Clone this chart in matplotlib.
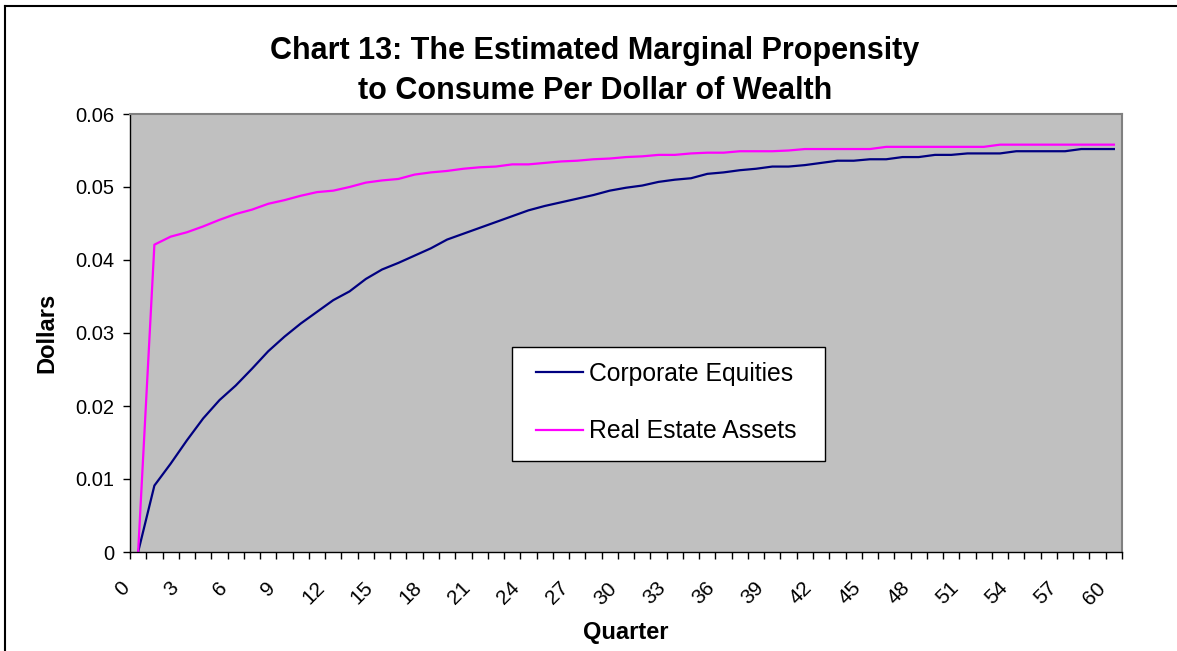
import matplotlib
matplotlib.use("Agg")
import matplotlib.pyplot as plt
import matplotlib.transforms as mtransforms
from matplotlib.lines import Line2D
from matplotlib.patches import Rectangle

plt.rcParams['font.family'] = ['Liberation Sans', 'DejaVu Sans']

quarters = list(range(61))
corporate_equities = [
    0.0, 0.0091, 0.0121, 0.0153, 0.0183, 0.0208, 0.0228, 0.0251, 0.0275, 0.0295,
    0.0313, 0.0329, 0.0345, 0.0357, 0.0374, 0.0387, 0.0396, 0.0406, 0.0416, 0.0428,
    0.0436, 0.0444, 0.0452, 0.0460, 0.0468, 0.0474, 0.0479, 0.0484, 0.0489, 0.0495,
    0.0499, 0.0502, 0.0507, 0.0510, 0.0512, 0.0518, 0.0520, 0.0523, 0.0525, 0.0528,
    0.0528, 0.0530, 0.0533, 0.0536, 0.0536, 0.0538, 0.0538, 0.0541, 0.0541, 0.0544,
    0.0544, 0.0546, 0.0546, 0.0546, 0.0549, 0.0549, 0.0549, 0.0549, 0.0552, 0.0552,
    0.0552,
]
real_estate_assets = [
    0.0, 0.0421, 0.0432, 0.0438, 0.0446, 0.0455, 0.0463, 0.0469, 0.0477, 0.0482,
    0.0488, 0.0493, 0.0495, 0.0500, 0.0506, 0.0509, 0.0511, 0.0517, 0.0520, 0.0522,
    0.0525, 0.0527, 0.0528, 0.0531, 0.0531, 0.0533, 0.0535, 0.0536, 0.0538, 0.0539,
    0.0541, 0.0542, 0.0544, 0.0544, 0.0546, 0.0547, 0.0547, 0.0549, 0.0549, 0.0549,
    0.0550, 0.0552, 0.0552, 0.0552, 0.0552, 0.0552, 0.0555, 0.0555, 0.0555, 0.0555,
    0.0555, 0.0555, 0.0555, 0.0558, 0.0558, 0.0558, 0.0558, 0.0558, 0.0558, 0.0558,
    0.0558,
]
x_tick_labels = [str(q) for q in range(0, 61, 3)]
y_ticks = [0, 0.01, 0.02, 0.03, 0.04, 0.05, 0.06]
y_tick_labels = ["0", "0.01", "0.02", "0.03", "0.04", "0.05", "0.06"]
series_names = ["Corporate Equities", "Real Estate Assets"]

W, H = 1177, 651
fig = plt.figure(figsize=(W / 100, H / 100), dpi=100)
fig.patch.set_facecolor('white')

left, right, top, bottom = 130, 1122, 114, 552
ax = fig.add_axes([left / W, 1 - bottom / H, (right - left) / W, (bottom - top) / H])
ax.set_facecolor('#C0C0C0')

ax.plot(quarters, corporate_equities, color='#000080', lw=1.6, label=series_names[0])
ax.plot(quarters, real_estate_assets, color='#FF00FF', lw=1.6, label=series_names[1])

ax.set_xlim(-0.5, len(quarters) - 0.5)
ax.set_ylim(0, 0.06)

# category boundary ticks
ax.set_xticks([q - 0.5 for q in quarters] + [len(quarters) - 0.5])
ax.set_xticklabels([])
ax.tick_params(axis='x', which='major', direction='out', length=5, width=1, color='black')
# labels at every third category
ax.set_xticks([int(s) for s in x_tick_labels], minor=True)
ax.set_xticklabels(x_tick_labels, minor=True, rotation=45, ha='right', va='top',
                   fontsize=15)
ax.tick_params(axis='x', which='minor', length=0, pad=19)
offset = mtransforms.ScaledTranslation(-5 / 100, 0, fig.dpi_scale_trans)
for lab in ax.get_xticklabels(minor=True):
    lab.set_transform(lab.get_transform() + offset)

ax.set_yticks(y_ticks)
ax.set_yticklabels(y_tick_labels, fontsize=14.5)
ax.tick_params(axis='y', direction='out', length=5, width=1, pad=6, color='black')

for s in ['top', 'right']:
    ax.spines[s].set_color('#808080')
    ax.spines[s].set_linewidth(1.5)
for s in ['left', 'bottom']:
    ax.spines[s].set_color('black')
    ax.spines[s].set_linewidth(1.0)

# legend box
ax.add_patch(Rectangle((512 / W, 1 - 461 / H), 313 / W, 114 / H,
                       transform=fig.transFigure, facecolor='white',
                       edgecolor='black', lw=1.0, zorder=4, clip_on=False))
leg = ax.legend(loc='upper left', bbox_to_anchor=(536 / W, 1 - 362 / H),
                bbox_transform=fig.transFigure, fontsize=17.8, frameon=False,
                borderaxespad=0, borderpad=0, handlelength=1.9, handletextpad=0.25,
                labelspacing=1.35)
leg.set_zorder(5)
for h in leg.get_lines():
    h.set_linewidth(1.6)

fig.text(595 / W, 1 - 51 / H, "Chart 13: The Estimated Marginal Propensity",
         ha='center', va='center', fontsize=22, fontweight='bold')
fig.text(595 / W, 1 - 91 / H, "to Consume Per Dollar of Wealth",
         ha='center', va='center', fontsize=22, fontweight='bold')
fig.text(626 / W, 1 - 632 / H, "Quarter", ha='center', va='center',
         fontsize=17, fontweight='bold')
fig.text(47 / W, 1 - 333 / H, "Dollars", ha='center', va='center', rotation=90,
         fontsize=17, fontweight='bold')

# outer chart frame (top and left edges visible)
fig.add_artist(Line2D([5 / W, 5 / W], [0, 1 - 6 / H], transform=fig.transFigure,
                      color='black', lw=1.5))
fig.add_artist(Line2D([5 / W, 1], [1 - 6 / H, 1 - 6 / H], transform=fig.transFigure,
                      color='black', lw=1.5))

fig.savefig("out.png", dpi=100)
